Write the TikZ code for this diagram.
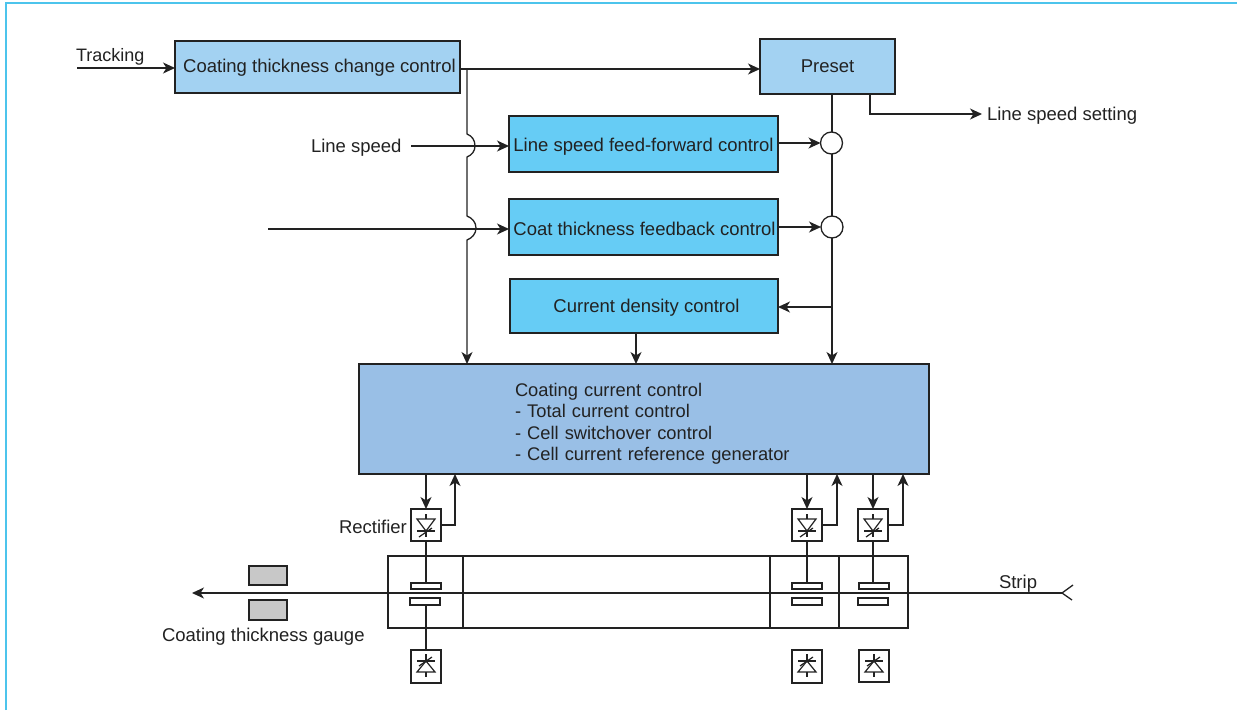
\documentclass[tikz,border=0pt]{standalone}
\usepackage{fontspec}
\setmainfont{Liberation Sans}
\usetikzlibrary{arrows.meta}
\definecolor{frameC}{HTML}{4CC4EC}
\definecolor{lightB}{HTML}{A3D2F2}
\definecolor{cyanB}{HTML}{66CCF5}
\definecolor{midB}{HTML}{99BFE6}
\definecolor{gaugeC}{HTML}{C8C8C8}
\definecolor{ink}{HTML}{222222}
\tikzset{
  x=1pt,y=-1pt,
  conn/.style={draw=ink,line width=1.3pt},
  arr/.style={conn,-{Stealth[length=12pt,width=11pt,inset=3.5pt]}},
  box/.style={draw=ink,line width=1.3pt,inner sep=0pt,outer sep=0pt,text=ink,font=\fontsize{18.5}{22}\selectfont,align=center},
  lab/.style={inner sep=0pt,outer sep=0pt,text=ink,font=\fontsize{18.5}{22}\selectfont},
  plate/.style={draw=ink,line width=1.3pt,fill=white,inner sep=0pt,outer sep=0pt},
  sumc/.style={circle,draw=ink,line width=1.3pt,fill=white,inner sep=0pt,outer sep=0pt,minimum size=22pt},
  sym/.style={draw=ink,line width=1.2pt},
}
% \bx{name}{x1}{y1}{x2}{y2}{style}{text}
\newcommand{\bx}[7]{%
  \pgfmathsetmacro{\bxcx}{(#2+#4)/2}\pgfmathsetmacro{\bxcy}{(#3+#5)/2}%
  \pgfmathsetmacro{\bxw}{#4-#2}\pgfmathsetmacro{\bxh}{#5-#3}%
  \node[box,#6,minimum width=\bxw pt,minimum height=\bxh pt] (#1) at (\bxcx,\bxcy) {#7};}
% strut that pushes a centred one-line text down by #1
\newcommand{\dn}[1]{\rule{0pt}{\dimexpr 13.5pt+2\dimexpr #1\relax\relax}}
\newcommand{\rectup}[1]{% rectifier symbol, #1 = centre x
  \draw[sym] (#1-9,519) -- (#1+9,519) -- (#1,531) -- cycle;
  \draw[sym] (#1-9,531) -- (#1+9,531);
  \draw[sym] (#1,514) -- (#1,519) (#1,531) -- (#1,537);
  \draw[sym] (#1-7,537) -- (#1+6,528);}
\newcommand{\rectdn}[1]{%
  \draw[sym] (#1-9,672) -- (#1+9,672) -- (#1,661) -- cycle;
  \draw[sym] (#1-9,661) -- (#1+9,661);
  \draw[sym] (#1,654) -- (#1,661) (#1,672) -- (#1,677);
  \draw[sym] (#1-7,666) -- (#1+6,657);}
\begin{document}
\begin{tikzpicture}
\useasboundingbox (0,0) rectangle (1237,710);
\fill[white] (0,0) rectangle (1237,710);
\draw[frameC,line width=2pt] (6,710) -- (6,3) -- (1237,3);

% cell tank
\bx{cell}{388}{556}{908}{628}{fill=white}{}
\coordinate (d1t) at (463,556); \coordinate (d1b) at (463,628);
\coordinate (d2t) at (770,556); \coordinate (d2b) at (770,628);
\coordinate (d3t) at (839,556); \coordinate (d3b) at (839,628);
\draw[conn] (d1t) -- (d1b) (d2t) -- (d2b) (d3t) -- (d3b);

% strip
\coordinate (stripR) at (1062,593);
\coordinate (stripL) at (192,593);
\coordinate (forkA) at (1073,585);
\coordinate (forkB) at (1072,600);
\draw[arr] (stripR) -- (stripL);
\draw[conn] (forkA) -- (stripR) -- (forkB);

% boxes
\bx{change}{175}{41}{460}{93}{fill=lightB}{\hspace*{4pt}\dn{1pt}Coating thickness change control}
\bx{preset}{760}{39}{895}{94}{fill=lightB}{Preset}
\bx{ff}{509}{116}{778}{172}{fill=cyanB}{\dn{3pt}Line speed feed-forward control}
\bx{fb}{509}{199}{778}{255}{fill=cyanB}{\hspace*{2pt}\dn{1.5pt}Coat thickness feedback control}
\bx{dens}{510}{279}{778}{333}{fill=cyanB}{\hspace*{5pt}\dn{2pt}Current density control}
\bx{cur}{359}{364}{929}{474}{fill=midB}{}
\node[lab,align=left,anchor=north west,text width=340pt,font=\fontsize{18.3}{21.4}\selectfont] (curT) at (515,383) {Coating current control\\- Total current control\\- Cell switchover control\\- Cell current reference generator};

% sum junctions
\node[sumc] (s1) at (831.5,143) {};
\node[sumc] (s2) at (832,227) {};

% labels
\node[lab,anchor=west] (lTrack) at (76,56.5) {\fontsize{18}{22}\selectfont Tracking};
\node[lab,anchor=west] (lSpeed) at (311,148) {Line speed};
\node[lab,anchor=west] (lSet) at (987,116) {Line speed setting};
\node[lab,anchor=west] (lRect) at (339,527) {Rectifier};
\node[lab,anchor=west] (lGauge) at (162,637) {Coating thickness gauge};
\node[lab,anchor=west] (lStrip) at (999,583.5) {Strip};

% top connectors
\coordinate (trackS) at (77,68);
\draw[arr] (trackS) -- (change.west |- trackS);
\coordinate (chOut) at (460,69);
\draw[arr] (chOut) -- (preset.west |- chOut);
\coordinate (speedS) at (411,146);
\draw[arr] (speedS) -- (ff.west |- speedS);
\coordinate (fbS) at (268,229);
\draw[arr] (fbS) -- (fb.west |- fbS);
\coordinate (branch) at (467,69);
\coordinate (curA) at (467,364);
\draw[arr] (branch) -- (467,134) .. controls (472,136) and (475,140) .. (475,146) .. controls (475,151) and (472,155) .. (467,157)
  -- (467,216) .. controls (472,218) and (476,222) .. (476,228) .. controls (476,234) and (472,238) .. (467,240) -- (curA);

% right column
\draw[conn] (s2 |- preset.south) -- (s2 |- s1.north);
\draw[conn] (s2 |- s1.south) -- (s2.north);
\coordinate (curB) at (832,364);
\draw[arr] (s2.south) -- (curB);
\coordinate (junc) at (832,307);
\draw[arr] (junc) -- (dens.east |- junc);
\draw[arr] (ff.east |- s1) -- (s1.west);
\draw[arr] (fb.east |- s2) -- (s2.west);
\coordinate (setS) at (870,94);
\coordinate (setT) at (982,114);
\draw[arr] (setS) |- (setT);
\draw[arr] (dens.south -| 636,333) -- (636,364);

% rectifiers
\bx{r1}{411}{509}{441}{541}{fill=white}{}
\bx{r2}{792}{509}{822}{541}{fill=white}{}
\bx{r3}{858}{509}{888}{541}{fill=white}{}
\bx{b1}{411}{650}{441}{683}{fill=white}{}
\bx{b2}{792}{650}{822}{683}{fill=white}{}
\bx{b3}{859}{650}{889}{682}{fill=white}{}
\rectup{426}\rectup{807}\rectup{873}
\rectdn{426}\rectdn{807}\rectdn{874}

% plates
\bx{p1t}{411}{583}{441}{589}{plate}{}
\bx{p1b}{410}{598}{440}{605}{plate}{}
\bx{p2t}{792}{583}{822}{589}{plate}{}
\bx{p2b}{792}{598}{822}{605}{plate}{}
\bx{p3t}{859}{583}{889}{589}{plate}{}
\bx{p3b}{858}{598}{888}{605}{plate}{}

% wires
\draw[conn] (r1.south) -- (r1.south |- p1t.north);
\draw[conn] (r1.south |- p1b.south) -- (b1.north);
\draw[conn] (r2.south) -- (r2.south |- p2t.north);
\draw[conn] (r3.south) -- (r3.south |- p3t.north);

% current control <-> rectifier
\draw[arr] (r1.north |- cur.south) -- (r1.north);
\draw[arr] (r2.north |- cur.south) -- (r2.north);
\draw[arr] (r3.north |- cur.south) -- (r3.north);
\coordinate (u1) at (455,474); \coordinate (u2) at (837,474); \coordinate (u3) at (903,474);
\draw[arr] (r1.east) -| (u1);
\draw[arr] (r2.east) -| (u2);
\draw[arr] (r3.east) -| (u3);

% gauge
\bx{g1}{249}{566}{287}{585}{fill=gaugeC}{}
\bx{g2}{249}{600}{287}{620}{fill=gaugeC}{}
\end{tikzpicture}
\end{document}
